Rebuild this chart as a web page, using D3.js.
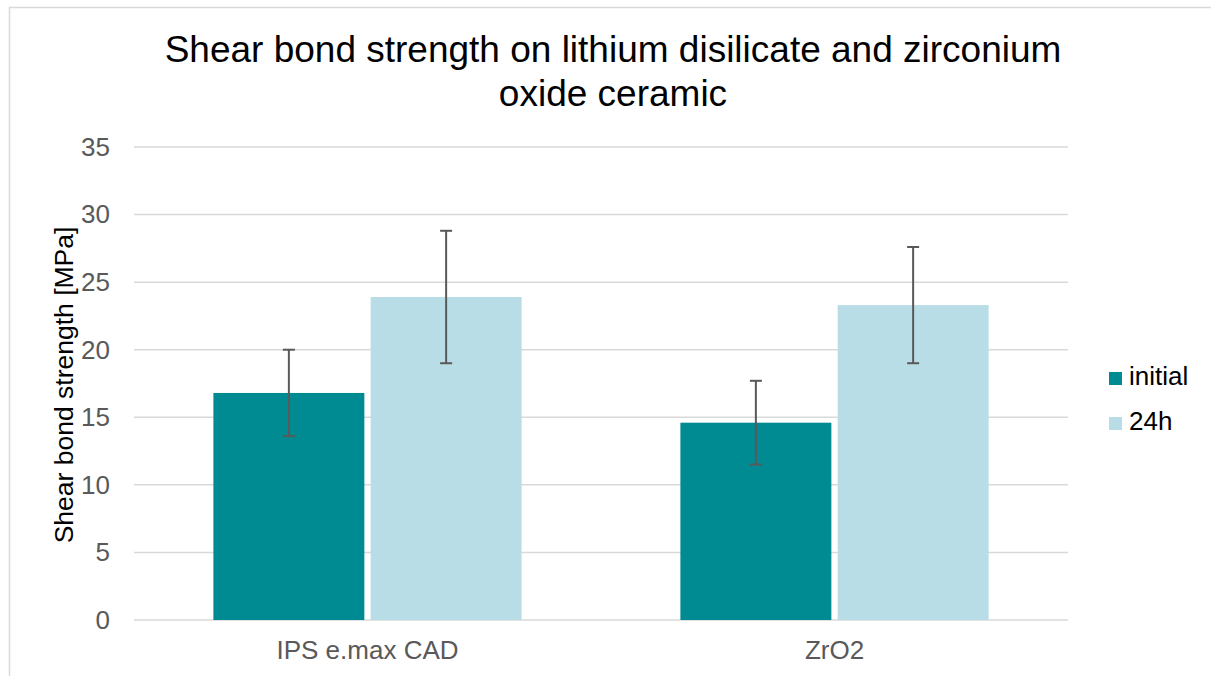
<!DOCTYPE html>
<html>
<head>
<meta charset="utf-8">
<script src="https://cdn.jsdelivr.net/npm/d3@7"></script>
<style>
  body { margin: 0; background: #fff; }
  svg { font-family: "Liberation Sans", Arial, sans-serif; }
</style>
</head>
<body>
<div id="chart"></div>
<script>
var categories = ["IPS e.max CAD", "ZrO2"];
var seriesNames = ["initial", "24h"];
var initialValues = [16.8, 14.6];
var initialErrors = [3.2, 3.1];
var h24Values = [23.9, 23.3];
var h24Errors = [4.9, 4.3];
var yTicks = [0, 5, 10, 15, 20, 25, 30, 35];
var colors = ["#008b93", "#b8dde7"];

var width = 1211, height = 676;
var margin = {top: 147, right: 143, bottom: 56, left: 134};
var innerW = width - margin.left - margin.right,
    innerH = height - margin.top - margin.bottom;
var font = "'Liberation Sans', Arial, sans-serif";

var data = categories.map(function(c, i) {
  return {cat: c, bars: [
    {s: "initial", v: initialValues[i], e: initialErrors[i]},
    {s: "24h", v: h24Values[i], e: h24Errors[i]}
  ]};
});

var svg = d3.select("#chart").append("svg")
  .attr("width", width).attr("height", height);

// chart border
svg.append("rect")
  .attr("x", 9.5).attr("y", 7.5)
  .attr("width", 1210).attr("height", 700)
  .attr("fill", "none").attr("stroke", "#d9d9d9").attr("stroke-width", 1.5);

var g = svg.append("g")
  .attr("transform", "translate(" + margin.left + "," + margin.top + ")");

var x0 = d3.scaleBand().domain(categories).range([0, innerW]);
var groupW = x0.bandwidth() * 0.66;
var x1 = d3.scaleBand().domain(seriesNames).range([0, groupW]).paddingInner(0.04);
var y = d3.scaleLinear().domain([0, 35]).range([innerH, 0]);

// gridlines
g.append("g").selectAll("line").data(yTicks).enter().append("line")
  .attr("x1", 0).attr("x2", innerW)
  .attr("y1", function(d) { return y(d); }).attr("y2", function(d) { return y(d); })
  .attr("stroke", "#d9d9d9").attr("stroke-width", 1.5);

// y axis labels
var yAxis = g.append("g")
  .call(d3.axisLeft(y).tickValues(yTicks).tickSize(0).tickPadding(24));
yAxis.select(".domain").remove();
yAxis.selectAll("text").attr("font-size", 26).attr("fill", "#595959")
  .attr("font-family", font);

// x axis labels
var xAxis = g.append("g")
  .attr("transform", "translate(0," + innerH + ")")
  .call(d3.axisBottom(x0).tickSize(0).tickPadding(0));
xAxis.select(".domain").remove();
xAxis.selectAll("text").attr("dy", null).attr("y", 39)
  .attr("font-size", 26).attr("fill", "#595959")
  .attr("font-family", font);

// bars
var groups = g.selectAll(".grp").data(data).enter().append("g")
  .attr("transform", function(d) {
    return "translate(" + (x0(d.cat) + (x0.bandwidth() - groupW) / 2) + ",0)";
  });

groups.selectAll("rect").data(function(d) { return d.bars; }).enter().append("rect")
  .attr("x", function(d) { return x1(d.s); })
  .attr("width", x1.bandwidth())
  .attr("y", function(d) { return y(d.v); })
  .attr("height", function(d) { return innerH - y(d.v); })
  .attr("fill", function(d, i) { return colors[i]; });

// error bars
var eb = groups.selectAll(".err").data(function(d) { return d.bars; }).enter().append("g");
eb.append("line")
  .attr("x1", function(d) { return x1(d.s) + x1.bandwidth() / 2; })
  .attr("x2", function(d) { return x1(d.s) + x1.bandwidth() / 2; })
  .attr("y1", function(d) { return y(d.v + d.e); })
  .attr("y2", function(d) { return y(d.v - d.e); })
  .attr("stroke", "#595959").attr("stroke-width", 2);
[1, -1].forEach(function(sign) {
  eb.append("line")
    .attr("x1", function(d) { return x1(d.s) + x1.bandwidth() / 2 - 6; })
    .attr("x2", function(d) { return x1(d.s) + x1.bandwidth() / 2 + 6; })
    .attr("y1", function(d) { return y(d.v + sign * d.e); })
    .attr("y2", function(d) { return y(d.v + sign * d.e); })
    .attr("stroke", "#595959").attr("stroke-width", 2);
});

// title
svg.append("text")
  .attr("x", 613).attr("y", 62)
  .attr("text-anchor", "middle").attr("font-size", 37).attr("fill", "#000")
  .text("Shear bond strength on lithium disilicate and zirconium");
svg.append("text")
  .attr("x", 613).attr("y", 106)
  .attr("text-anchor", "middle").attr("font-size", 37).attr("fill", "#000")
  .text("oxide ceramic");

// y axis title
svg.append("text")
  .attr("transform", "translate(73,385) rotate(-90)")
  .attr("text-anchor", "middle").attr("font-size", 26.5).attr("fill", "#000")
  .text("Shear bond strength [MPa]");

// legend
var legend = svg.append("g").attr("transform", "translate(1109,372)");
seriesNames.forEach(function(s, i) {
  var row = legend.append("g").attr("transform", "translate(0," + (i * 45) + ")");
  row.append("rect").attr("width", 13).attr("height", 13).attr("fill", colors[i]);
  row.append("text").attr("x", 20).attr("y", 13)
    .attr("font-size", 26).attr("fill", "#000").text(s);
});
</script>
</body>
</html>
